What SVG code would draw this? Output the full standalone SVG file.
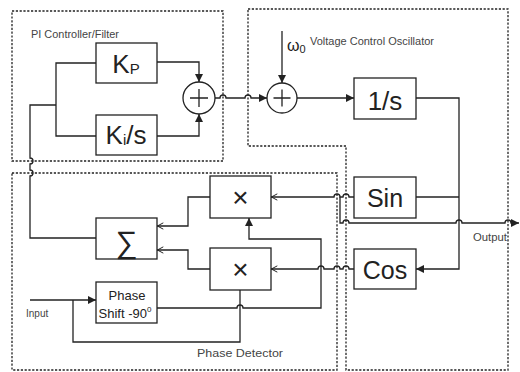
<svg xmlns="http://www.w3.org/2000/svg" width="520" height="372" viewBox="0 0 520 372">
<style>
.box{fill:#fff;stroke:#222;stroke-width:1.3}
.ln{fill:none;stroke:#222;stroke-width:1.3}
.dash{fill:none;stroke:#222;stroke-width:1.3;stroke-dasharray:2.2 1.6}
.t{font-family:"Liberation Sans",Arial,sans-serif;fill:#222}
.big{font-size:25px}
.lbl{font-size:10px;fill:#444}
</style>
<defs>
<marker id="fa" viewBox="0 0 10 10" refX="10" refY="5" markerWidth="9" markerHeight="8" markerUnits="userSpaceOnUse" orient="auto">
<path d="M0,0 L10,5 L0,10 Z" fill="#222"/>
</marker>
<marker id="oa" viewBox="0 0 10 10" refX="10" refY="5" markerWidth="7" markerHeight="8" markerUnits="userSpaceOnUse" orient="auto">
<path d="M1,0.5 L9.5,5 L1,9.5" fill="none" stroke="#222" stroke-width="1.4"/>
</marker>
</defs>
<rect width="520" height="372" fill="#fff"/>

<g id="regions">
<rect class="dash" x="12" y="11" width="211" height="150"/>
<path class="dash" d="M248,9 H508 V370 H346 V146 H248 Z"/>
<rect class="dash" x="12" y="173" width="325" height="197"/>
<text class="t lbl" x="31" y="38" textLength="88" lengthAdjust="spacingAndGlyphs">PI Controller/Filter</text>
<text class="t lbl" x="310" y="45" textLength="124" lengthAdjust="spacingAndGlyphs">Voltage Control Oscillator</text>
<text class="t lbl" x="197" y="357" textLength="86" lengthAdjust="spacingAndGlyphs">Phase Detector</text>
</g>

<g id="connectors">
<path class="ln" d="M96,63 H56 V136 H96"/>
<path class="ln" d="M56,105 H30 V158 a3,3 0 0 1 0,6 V170 a3,3 0 0 1 0,6 V238 H96"/>
<path class="ln" d="M157,62 H199 V82" marker-end="url(#fa)"/>
<path class="ln" d="M157,136 H199 V114" marker-end="url(#fa)"/>
<path class="ln" d="M215,98 H220 a3,3 0 0 1 6,0 H245 a3,3 0 0 1 6,0 H267" marker-end="url(#fa)"/>
<path class="ln" d="M282,31 V83" marker-end="url(#fa)"/>
<path class="ln" d="M297,98 H354" marker-end="url(#fa)"/>
<path class="ln" d="M416,98 H459 V269 H416" marker-end="url(#fa)"/>
<path class="ln" d="M416,197 H459"/>
<path class="ln" d="M354,197 H349 a3,3 0 0 0 -6,0 H340 a3,3 0 0 0 -6,0 H271" marker-end="url(#oa)"/>
<path class="ln" d="M340,197 V223 H343 a3,3 0 0 1 6,0 H456 a3,3 0 0 1 6,0 H505 a3,3 0 0 1 6,0 H519" marker-end="url(#fa)"/>
<path class="ln" d="M354,269 H349 a3,3 0 0 0 -6,0 H340 a3,3 0 0 0 -6,0 H324 a3,3 0 0 0 -6,0 H271" marker-end="url(#oa)"/>
<path class="ln" d="M210,197 H188 V226 H157" marker-end="url(#oa)"/>
<path class="ln" d="M210,269 H188 V250 H157" marker-end="url(#oa)"/>
<path class="ln" d="M30,300 H96" marker-end="url(#fa)"/>
<path class="ln" d="M73,300 V342 H240 V290"/>
<path class="ln" d="M157,308 H237 a3,3 0 0 1 6,0 H321 V239 H249 V218" marker-end="url(#fa)"/>
<text class="t lbl" x="26" y="317">Input</text>
<text class="t lbl" x="473" y="241" textLength="34" lengthAdjust="spacingAndGlyphs">Output</text>
<text class="t" x="287" y="51" font-size="16">ω<tspan font-size="11" dy="2">0</tspan></text>
</g>

<g id="kp">
<rect class="box" x="96" y="43" width="61" height="40"/>
<text class="t" x="126" y="73" font-size="26" text-anchor="middle">K<tspan font-size="15" dy="1">P</tspan></text>
</g>
<g id="ki">
<rect class="box" x="96" y="115" width="61" height="40"/>
<text class="t" x="126" y="144" font-size="26" text-anchor="middle">K<tspan font-size="15" dy="1">i</tspan><tspan dy="-1">/s</tspan></text>
</g>
<g id="sum1">
<circle class="box" cx="199" cy="98" r="16"/>
<path class="ln" d="M190,98 H208 M199,89 V107" stroke-width="1.8"/>
</g>
<g id="sum2">
<circle class="box" cx="282" cy="98" r="15"/>
<path class="ln" d="M273.5,98 H290.5 M282,89.5 V106.5" stroke-width="1.8"/>
</g>
<g id="integrator">
<rect class="box" x="354" y="78" width="62" height="41"/>
<text class="t" x="385" y="110" font-size="26" text-anchor="middle">1/s</text>
</g>
<g id="sin">
<rect class="box" x="354" y="177" width="62" height="41"/>
<text class="t big" x="385" y="207" text-anchor="middle">Sin</text>
</g>
<g id="cos">
<rect class="box" x="354" y="249" width="62" height="40"/>
<text class="t big" x="385" y="279" text-anchor="middle">Cos</text>
</g>
<g id="mult1">
<rect class="box" x="210" y="176" width="61" height="42"/>
<text class="t" x="240.5" y="207" font-size="28" text-anchor="middle">×</text>
</g>
<g id="mult2">
<rect class="box" x="210" y="248" width="61" height="42"/>
<text class="t" x="240.5" y="279" font-size="28" text-anchor="middle">×</text>
</g>
<g id="sigma">
<rect class="box" x="96" y="218" width="61" height="41"/>
<text class="t" x="126.5" y="253" font-size="31" text-anchor="middle">∑</text>
</g>
<g id="phaseshift">
<rect class="box" x="96" y="282" width="61" height="41"/>
<text class="t" x="127" y="300" font-size="13" text-anchor="middle">Phase</text>
<text class="t" x="125" y="318" font-size="13" text-anchor="middle">Shift -90<tspan font-size="8" dy="-6">0</tspan></text>
</g>
</svg>
